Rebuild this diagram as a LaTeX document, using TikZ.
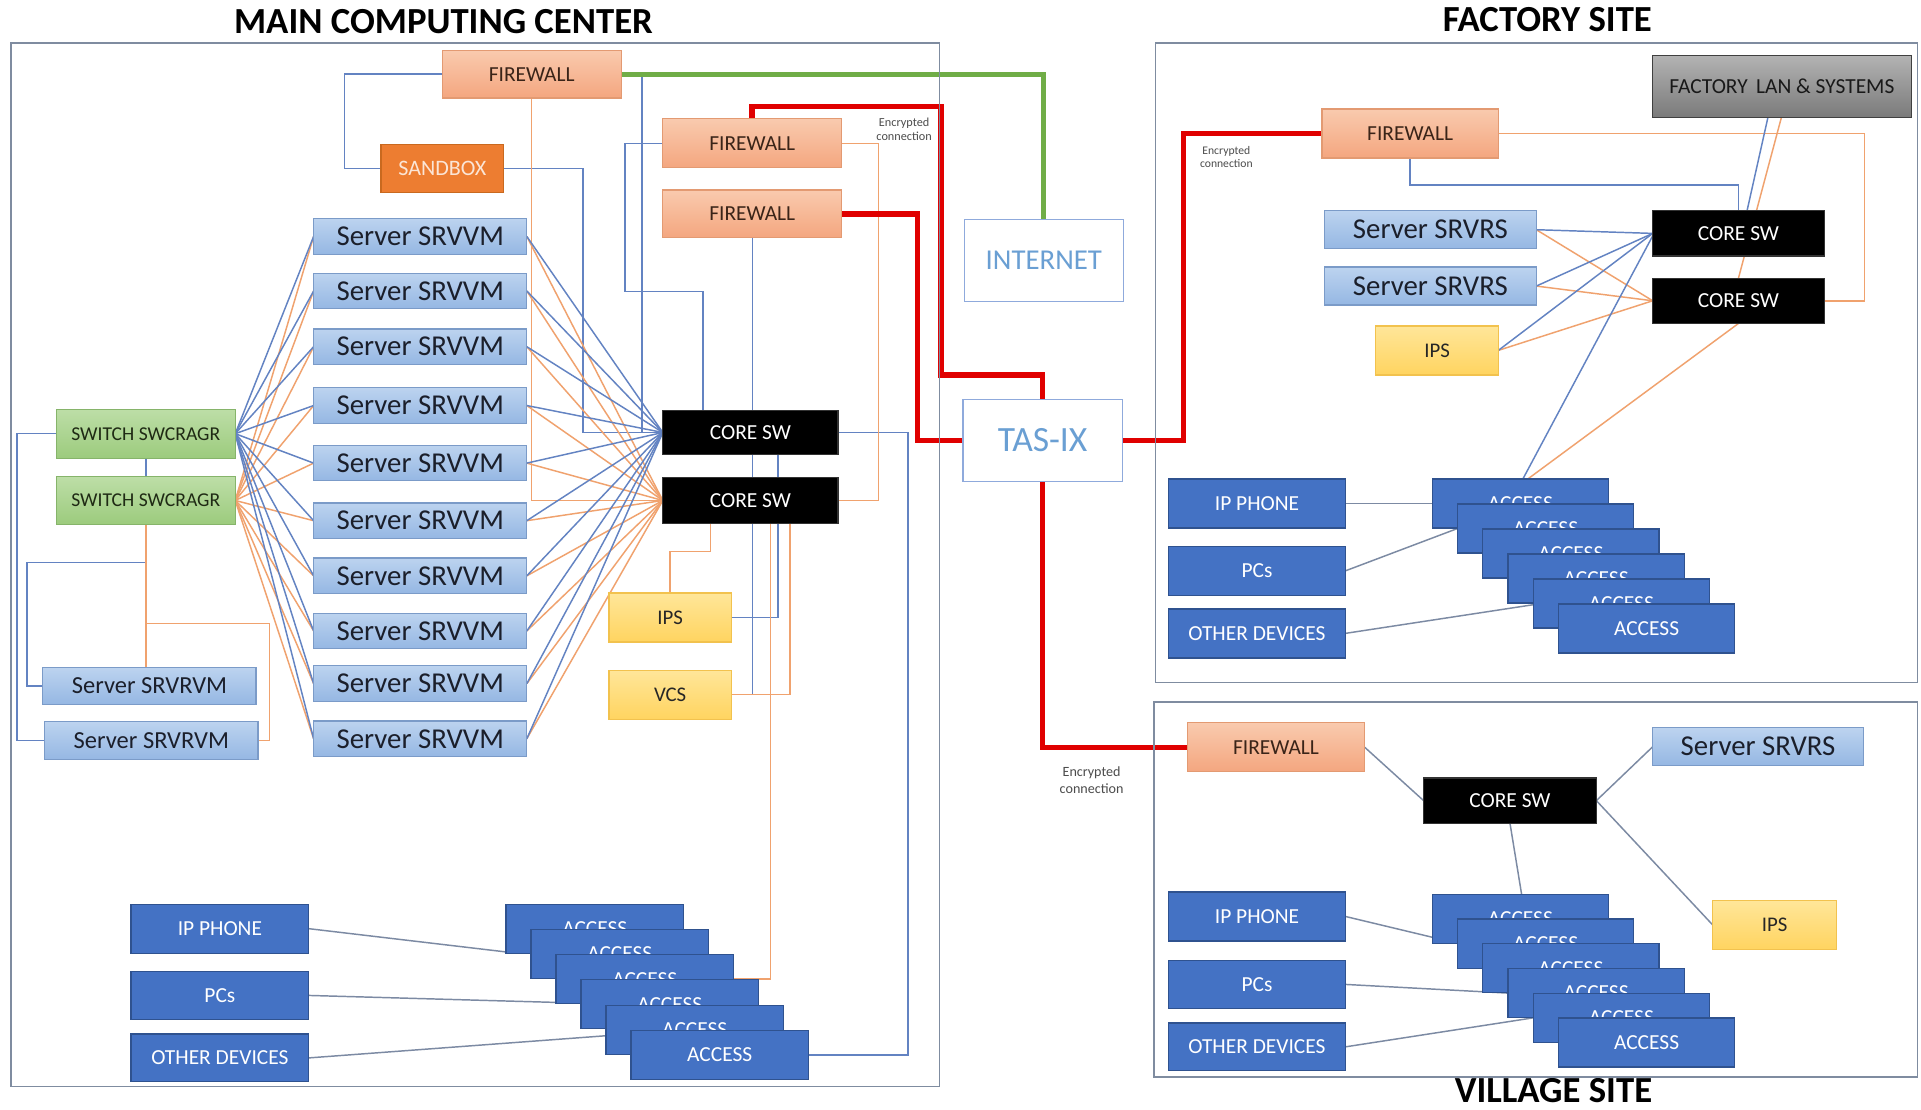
\documentclass[tikz,border=0pt]{standalone}
\usepackage{fontspec}
\setmainfont{Carlito}
\usetikzlibrary{backgrounds,calc}
\pgfdeclarelayer{edges}
\pgfsetlayers{background,edges,main}
\newcommand\myfs[1]{\fontsize{#1}{#1}\selectfont}
\definecolor{fwtop}{HTML}{F9CAAE}
\definecolor{fwbot}{HTML}{F4A67F}
\definecolor{fwdraw}{HTML}{E39A72}
\definecolor{fwtext}{HTML}{3A2418}
\definecolor{sbfill}{HTML}{ED7D31}
\definecolor{sbdraw}{HTML}{C9691F}
\definecolor{sbtext}{HTML}{FBE5D6}
\definecolor{srvtop}{HTML}{BCD3EF}
\definecolor{srvbot}{HTML}{95B7E3}
\definecolor{srvdraw}{HTML}{7B9BC8}
\definecolor{srvtext}{HTML}{1B1F2B}
\definecolor{swtop}{HTML}{BDDEA7}
\definecolor{swbot}{HTML}{9CCB7D}
\definecolor{swdraw}{HTML}{86B46A}
\definecolor{swtext}{HTML}{1F2A14}
\definecolor{ipstop}{HTML}{FFE699}
\definecolor{ipsbot}{HTML}{FFD460}
\definecolor{ipsdraw}{HTML}{F2C24E}
\definecolor{devfill}{HTML}{4472C4}
\definecolor{devdraw}{HTML}{2F528F}
\definecolor{cldraw}{HTML}{8FAADC}
\definecolor{cltext}{HTML}{6A9FD3}
\definecolor{lantop}{HTML}{B3B3B3}
\definecolor{lanbot}{HTML}{7A7A7A}
\definecolor{landraw}{HTML}{404040}
\definecolor{lblue}{HTML}{6383C2}
\definecolor{lorange}{HTML}{F0A26E}
\definecolor{lred}{HTML}{E00000}
\definecolor{lgreen}{HTML}{70AD47}
\definecolor{frame}{HTML}{7F8CA0}
\definecolor{lgray}{HTML}{7C8AA3}
\begin{document}
\begin{tikzpicture}[x=1pt,y=-1pt,
  box/.style={draw, line width=1pt, inner sep=0pt, outer sep=0pt, align=center},
  fw/.style={box, top color=fwtop, bottom color=fwbot, draw=fwdraw, text=fwtext, minimum width=146, minimum height=39, font=\myfs{17.5}},
  sandboxstyle/.style={box, fill=sbfill, draw=sbdraw, text=sbtext, minimum width=100, minimum height=39, font=\myfs{18}},
  srv/.style={box, top color=srvtop, bottom color=srvbot, draw=srvdraw, text=srvtext, minimum width=174, minimum height=29, font=\myfs{23.5}},
  srvr/.style={box, top color=srvtop, bottom color=srvbot, draw=srvdraw, text=srvtext, minimum width=174, minimum height=30, font=\myfs{20}},
  sw/.style={box, top color=swtop, bottom color=swbot, draw=swdraw, text=swtext, minimum width=146, minimum height=39, font=\myfs{16}},
  core/.style={box, fill=black, draw=black!80, text=white, minimum width=143, minimum height=37, font=\myfs{17.5}},
  ipsbox/.style={box, top color=ipstop, bottom color=ipsbot, draw=ipsdraw, text=black!85, minimum width=100, minimum height=40, font=\myfs{17}},
  dev/.style={box, fill=devfill, draw=devdraw, text=white, minimum width=145, minimum height=40, font=\myfs{17.5}},
  cloud/.style={box, fill=white, draw=cldraw, text=cltext, minimum width=130, minimum height=67},
  lanbox/.style={box, top color=lantop, bottom color=lanbot, draw=landraw, text=black!90, minimum width=211, minimum height=51, font=\myfs{17.5}},
  title/.style={font=\bfseries\myfs{30}, text=black, inner sep=0pt},
  enc/.style={font=\myfs{10}, text=black!70, align=center, inner sep=0pt},
  bl/.style={draw=lblue, line width=1.2pt},
  orl/.style={draw=lorange, line width=1.2pt},
  gl/.style={draw=lgray, line width=1.2pt},
  redl/.style={draw=lred, line width=4.5pt},
  greenl/.style={draw=lgreen, line width=4pt},
  framebox/.style={draw=frame, line width=1.2pt}
]
\begin{pgfonlayer}{background}
\fill[white] (0,0) rectangle (1568,906);
\end{pgfonlayer}
\useasboundingbox (0,0) rectangle (1568,906);

% titles
\node[title] (t1) at (362,18) {MAIN COMPUTING CENTER};
\node[title] (t2) at (1263,16) {FACTORY SITE};
\node[title, anchor=base] (t3) at (1268,900) {VILLAGE SITE};

% frames
\draw[framebox] (9,35) rectangle (767,887);
\draw[framebox] (943,35) rectangle (1565,557);
\draw[framebox] (942,573) rectangle (1565,879);

% ===== main computing center =====
\node[fw] (fwA) at (434,60.5) {FIREWALL};
\node[sandboxstyle] (sandbox) at (361,137.5) {SANDBOX};
\node[fw, minimum height=40] (fwB) at (614,117) {FIREWALL};
\node[fw] (fwC) at (614,174.5) {FIREWALL};
\foreach \i/\y in {1/193,2/237.5,3/283,4/331,5/378,6/425,7/470,8/515,9/558,10/603}
  \node[srv] (s\i) at (343,\y) {Server SRVVM};
\node[sw, minimum height=40] (sw1) at (119,354) {SWITCH SWCRAGR};
\node[sw] (sw2) at (119,408.5) {SWITCH SWCRAGR};
\node[srvr] (r1) at (122,560) {Server SRVRVM};
\node[srvr, minimum height=31] (r2) at (123.5,604.5) {Server SRVRVM};
\node[core, minimum height=36] (core1) at (612.5,353) {CORE SW};
\node[core] (core2) at (612.5,408.5) {CORE SW};
\node[ipsbox] (ips) at (547,504) {IPS};
\node[ipsbox] (vcs) at (547,567) {VCS};
\node[dev] (mphone) at (179.5,758) {IP PHONE};
\node[dev, minimum height=39] (mpcs) at (179.5,812.5) {PCs};
\node[dev, minimum height=39] (mother) at (179.5,863.5) {OTHER DEVICES};
\foreach \k in {0,...,5}
  \node[dev] (ma\k) at ({485.5+20.4*\k},{758+20.6*\k}) {ACCESS};

\node[cloud, font=\myfs{23.5}] (internet) at (852,212.5) {INTERNET};
\node[cloud, font=\myfs{29}] (tasix) at (851,359.5) {TAS-IX};

\node[enc] (enc1) at (738,105.5) {Encrypted\\[1pt]connection};
\node[enc, font=\myfs{9.5}] (enc2) at (1001,128) {Encrypted\\[1pt]connection};
\node[enc, font=\myfs{11.5}] (enc3) at (891,637) {Encrypted\\[2pt]connection};

% ===== factory =====
\node[lanbox] (flan) at (1454.5,70.5) {FACTORY \,LAN \& SYSTEMS};
\node[fw, minimum width=144, minimum height=40] (ffw) at (1151,109) {FIREWALL};
\node[srv, minimum width=173, minimum height=31] (fs1) at (1167.5,187.5) {Server SRVRS};
\node[srv, minimum width=173, minimum height=31] (fs2) at (1167.5,233.5) {Server SRVRS};
\node[ipsbox] (fips) at (1173,286) {IPS};
\node[core, minimum width=140] (fc1) at (1419,190.5) {CORE SW};
\node[core, minimum width=140] (fc2) at (1419,245.5) {CORE SW};
\node[dev, minimum width=144] (fphone) at (1026,411) {IP PHONE};
\node[dev, minimum width=144] (fpcs) at (1026,466) {PCs};
\node[dev, minimum width=144] (fother) at (1026,517) {OTHER DEVICES};
\foreach \k in {0,...,5}
  \node[dev, minimum width=144] (fa\k) at ({1241+20.6*\k},{411+20.4*\k}) {ACCESS};

% ===== village =====
\node[fw, minimum width=145, minimum height=40] (vfw) at (1041.5,610) {FIREWALL};
\node[srv, minimum width=172, minimum height=31] (vsrv) at (1435,609.5) {Server SRVRS};
\node[core, minimum width=141] (vcore) at (1232.5,653.5) {CORE SW};
\node[ipsbox, minimum width=101] (vips) at (1448.5,755) {IPS};
\node[dev, minimum width=144] (vphone) at (1026,748) {IP PHONE};
\node[dev, minimum width=144, minimum height=39] (vpcs) at (1026,803.5) {PCs};
\node[dev, minimum width=144, minimum height=39] (vother) at (1026,854.5) {OTHER DEVICES};
\foreach \k in {0,...,5}
  \node[dev, minimum width=144] (va\k) at ({1241+20.6*\k},{750+20.2*\k}) {ACCESS};

% ===== connectors =====
\begin{pgfonlayer}{edges}
% main: blue
\draw[bl] (fwA.west) -- ++(-80,0) |- (sandbox.west);
\draw[bl] (sandbox.east) -- ++(65,0) |- (core1.west);
\draw[bl] (fwA.east) -- ++(17,0) |- (core1.west);
\draw[bl] (fwB.west) -| (510,238) -| ([xshift=-38.5]core1.north);
\draw[bl] (fwC.south) -- (fwC.south |- core1.north);
\draw[bl] (core1.east) -- ++(57,0) |- (ma5.east);
\draw[bl] (vcs.east) -| ([xshift=1.5]core1.south);
\draw[bl] (ips.east) -| ([xshift=22.5]core1.south);
\draw[bl] (sw1.west) -- ++(-32,0) |- (r2.west);
\draw[bl] (sw1.south) -- (sw2.north);
\draw[bl] (sw2.south) -- (119,459) -- (22,459) |- (r1.west);
% main: orange
\draw[orl] (fwA.south) |- (core2.west);
\draw[orl] (fwB.east) -- ++(30,0) |- (core2.east);
\draw[orl] (ips.north) -- (547,450) -| ([xshift=-32.5]core2.south);
\draw[orl] (ma2.east) -| ([xshift=16.5]core2.south);
\draw[orl] (vcs.east) -| ([xshift=32.5]core2.south);
\draw[orl] (sw2.south) -- (sw2.south |- r1.north);
\draw[orl] (119,509) -- (220,509) |- (r2.east);
% fans
\foreach \i in {1,...,10} {
  \draw[orl] (sw2.east) -- (s\i.west);
  \draw[orl] (s\i.east) -- (core2.west);
}
\foreach \i in {1,...,10} {
  \draw[bl] (sw1.east) -- (s\i.west);
  \draw[bl] (s\i.east) -- (core1.west);
}
% main devices
\draw[gl] (mphone.east) -- ($(ma0.south west)+(0,-1)$);
\draw[gl] (mpcs.east) -- ($(ma2.south west)+(0,-1)$);
\draw[gl] (mother.east) -- ($(ma4.west)+(0,5)$);

% factory
\draw[bl] (ffw.south) -- ++(0,22) -| (fc1.north);
\draw[orl] (ffw.east) -- (1522,109) |- (fc2.east);
\draw[bl] ([xshift=-11.5]flan.south) -- ([xshift=7]fc1.north);
\draw[orl] ([xshift=-0.5]flan.south) -- (fc2.north);
\foreach \n in {fs1,fs2,fips} {
  \draw[orl] (\n.east) -- (fc2.west);
  \draw[bl] (\n.east) -- (fc1.west);
}
\draw[bl] ([xshift=2]fa0.north) -- ($(fc1.west)+(0,2)$);
\draw[orl] ([xshift=6]fa0.north) -- (fc2.south);
\draw[gl] (fphone.east) -- (fa0.west);
\draw[gl] (fpcs.east) -- (fa1.west);
\draw[gl] (fother.east) -- ($(fa4.west)+(0,1)$);

% village
\draw[gl] (vfw.east) -- (vcore.west);
\draw[gl] (vsrv.west) -- (vcore.east);
\draw[gl] (vcore.east) -- (vips.west);
\draw[gl] (vcore.south) -- ([xshift=1]va0.north);
\draw[gl] (vphone.east) -- ($(va0.south west)+(0,-5)$);
\draw[gl] (vpcs.east) -- (va3.west);
\draw[gl] (vother.east) -- (va4.west);

% thick links
\draw[greenl] (fwA.east) -| (internet.north);
\draw[redl] (fwB.north) -- ++(0,-10) -| (768,306) -| (tasix.north);
\draw[redl] (fwC.east) -- (749,174.5) |- (tasix.west);
\draw[redl] (tasix.east) -- ++(50,0) |- (ffw.west);
\draw[redl] (tasix.south) |- (vfw.west);
\end{pgfonlayer}
\end{tikzpicture}
\end{document}
